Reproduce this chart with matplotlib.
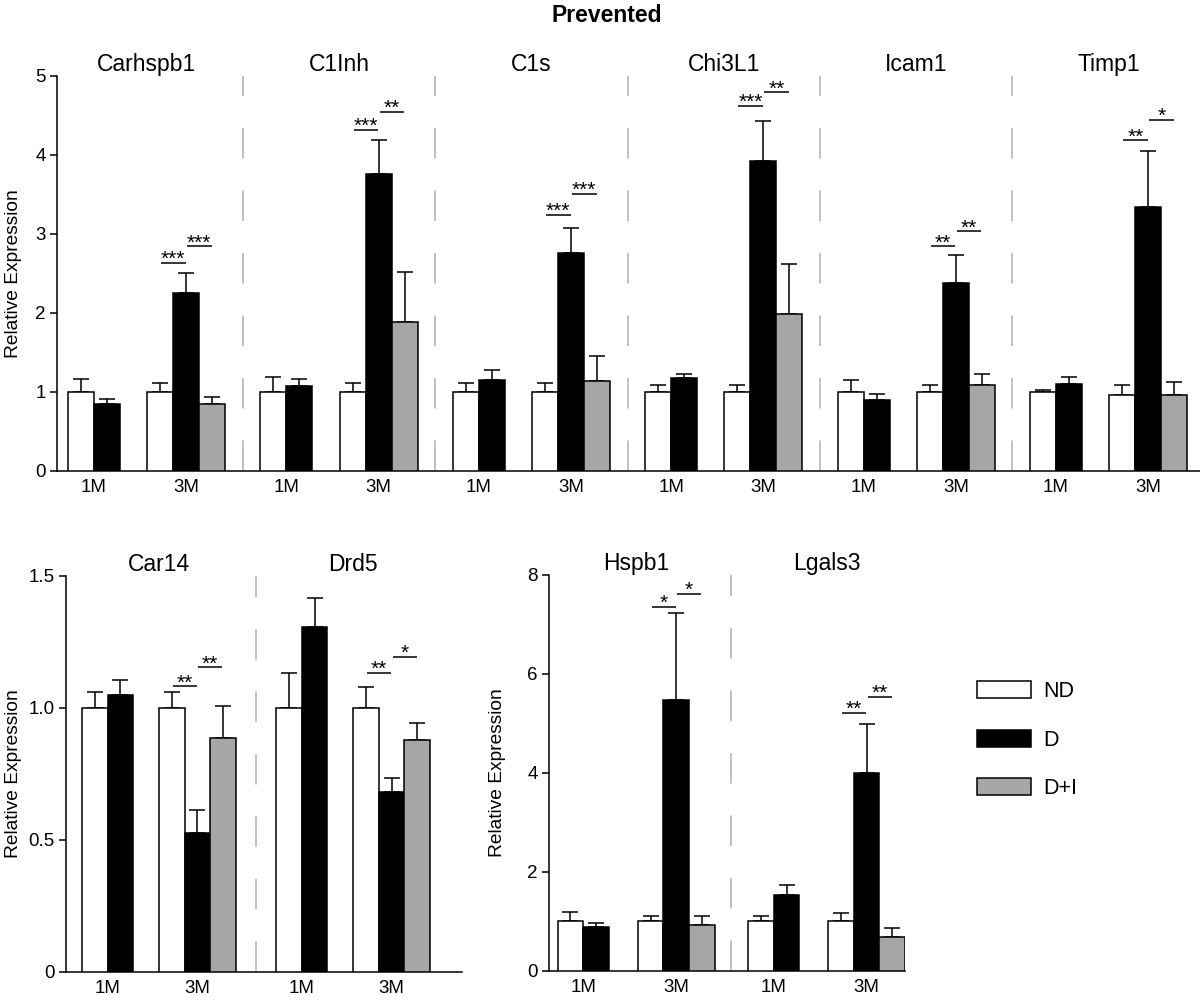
import numpy as np
import matplotlib
matplotlib.use('Agg')
import matplotlib.pyplot as plt
import matplotlib.patches as mpatches
from matplotlib.transforms import blended_transform_factory

plt.rcParams['font.family'] = ['Liberation Sans', 'DejaVu Sans']
plt.rcParams['lines.scale_dashes'] = False

GRAY = '#a6a6a6'
DASH = '#b0b0b0'

# ---- top panel ----
top_genes = ['Carhspb1', 'C1Inh', 'C1s', 'Chi3L1', 'Icam1', 'Timp1']
top_nd_1m = [1.0, 1.0, 1.0, 1.0, 1.0, 0.99]
top_nd_1m_err = [0.16, 0.18, 0.11, 0.08, 0.15, 0.03]
top_d_1m = [0.84, 1.07, 1.15, 1.17, 0.89, 1.10]
top_d_1m_err = [0.07, 0.09, 0.12, 0.05, 0.08, 0.08]
top_nd_3m = [1.0, 1.0, 1.0, 1.0, 1.0, 0.96]
top_nd_3m_err = [0.11, 0.11, 0.11, 0.08, 0.08, 0.12]
top_d_3m = [2.25, 3.76, 2.75, 3.92, 2.37, 3.34]
top_d_3m_err = [0.25, 0.43, 0.32, 0.51, 0.36, 0.71]
top_di_3m = [0.84, 1.88, 1.13, 1.98, 1.09, 0.96]
top_di_3m_err = [0.09, 0.63, 0.32, 0.63, 0.14, 0.16]
top_sig1 = ['***', '***', '***', '***', '**', '**']
top_sig1_y = [2.63, 4.31, 3.24, 4.62, 2.84, 4.18]
top_sig2 = ['***', '**', '***', '**', '**', '*']
top_sig2_y = [2.84, 4.54, 3.50, 4.79, 3.03, 4.44]

# ---- bottom left ----
bl_genes = ['Car14', 'Drd5']
bl_nd_1m = [1.0, 1.0]
bl_nd_1m_err = [0.058, 0.131]
bl_d_1m = [1.047, 1.305]
bl_d_1m_err = [0.057, 0.111]
bl_nd_3m = [1.0, 1.0]
bl_nd_3m_err = [0.058, 0.080]
bl_d_3m = [0.527, 0.681]
bl_d_3m_err = [0.085, 0.053]
bl_di_3m = [0.884, 0.877]
bl_di_3m_err = [0.121, 0.066]
bl_sig1 = ['**', '**']
bl_sig1_y = [1.081, 1.131]
bl_sig2 = ['**', '*']
bl_sig2_y = [1.153, 1.193]

# ---- bottom middle ----
bm_genes = ['Hspb1', 'Lgals3']
bm_nd_1m = [1.01, 1.0]
bm_nd_1m_err = [0.18, 0.12]
bm_d_1m = [0.89, 1.535]
bm_d_1m_err = [0.08, 0.195]
bm_nd_3m = [1.0, 1.0]
bm_nd_3m_err = [0.12, 0.165]
bm_d_3m = [5.47, 3.99]
bm_d_3m_err = [1.76, 0.99]
bm_di_3m = [0.93, 0.69]
bm_di_3m_err = [0.19, 0.185]
bm_sig1 = ['*', '**']
bm_sig1_y = [7.35, 5.21]
bm_sig2 = ['*', '**']
bm_sig2_y = [7.62, 5.54]

groups = ['ND', 'D', 'D+I']
group_colors = ['white', 'black', GRAY]


def draw_panel(ax, genes, nd1, nd1e, d1, d1e, nd3, nd3e, d3, d3e, di3, di3e,
               sig1, sig1_y, sig2, sig2_y, W, gap, xlim, ylim, yticks, yticklabels):
    n = len(genes)
    start = np.arange(n) * W
    x_nd1 = start + 0.5
    x_d1 = start + 1.5
    x_nd3 = start + gap + 0.5
    x_d3 = start + gap + 1.5
    x_di3 = start + gap + 2.5

    bars = [(x_nd1, nd1, nd1e, 'white'), (x_d1, d1, d1e, 'black'),
            (x_nd3, nd3, nd3e, 'white'), (x_d3, d3, d3e, 'black'),
            (x_di3, di3, di3e, GRAY)]
    for x, h, e, c in bars:
        ax.bar(x, h, width=1.0, color=c, edgecolor='black', linewidth=1.1, zorder=3)
        ax.errorbar(x, h, yerr=[np.zeros(n), e], fmt='none', ecolor='black',
                    elinewidth=1.1, capsize=6, capthick=1.1, zorder=2)

    # significance bars
    for i in range(n):
        for xa, xb, lab, y in [(x_nd3[i], x_d3[i], sig1[i], sig1_y[i]),
                               (x_d3[i], x_di3[i], sig2[i], sig2_y[i])]:
            ax.plot([xa + 0.04, xb - 0.02], [y, y], color='black', lw=1.1,
                    solid_capstyle='butt', zorder=4)
            ax.annotate(lab, xy=((xa + xb) / 2, y), xytext=(0, -1.5),
                        textcoords='offset points', ha='center', va='baseline',
                        fontsize=15)

    # dashed separators
    for i in range(n - 1):
        xs = (start[i] + gap + 3 + start[i + 1]) / 2
        ax.plot([xs, xs], [ylim[0], ylim[1]], color=DASH, lw=1.1,
                linestyle=(0, (22, 23)), zorder=1, clip_on=False)

    # gene titles
    trans = blended_transform_factory(ax.transData, ax.transAxes)
    for i in range(n):
        ax.text(start[i] + (gap + 3) / 2, 1.012, genes[i], transform=trans,
                ha='center', va='baseline', fontsize=16.5)

    centers = np.concatenate([start + 1.0, start + gap + 1.5])
    labels = ['1M'] * n + ['3M'] * n
    ax.set_xticks(centers)
    ax.set_xticklabels(labels, fontsize=13.5)
    ax.tick_params(axis='x', length=0, pad=6)
    ax.tick_params(axis='y', direction='out', length=5, width=1.1, pad=3,
                   labelsize=13.5)
    ax.set_yticks(yticks)
    ax.set_yticklabels(yticklabels)
    ax.set_xlim(*xlim)
    ax.set_ylim(*ylim)
    for s in ['top', 'right']:
        ax.spines[s].set_visible(False)
    for s in ['left', 'bottom']:
        ax.spines[s].set_linewidth(1.1)
    ax.set_ylabel('Relative Expression', fontsize=13.8)


fig = plt.figure(figsize=(12, 10.01), dpi=100)

ax_top = fig.add_axes([0.0475, 0.5298, 0.9525, 0.3946])
draw_panel(ax_top, top_genes, top_nd_1m, top_nd_1m_err, top_d_1m, top_d_1m_err,
           top_nd_3m, top_nd_3m_err, top_d_3m, top_d_3m_err, top_di_3m, top_di_3m_err,
           top_sig1, top_sig1_y, top_sig2, top_sig2_y,
           W=7.4, gap=3.05, xlim=(-0.42, 43.54), ylim=(0, 5),
           yticks=[0, 1, 2, 3, 4, 5], yticklabels=['0', '1', '2', '3', '4', '5'])
ax_top.yaxis.set_label_coords(-0.0306, 0.5)

ax_bl = fig.add_axes([0.055, 0.029, 0.3298, 0.3959])
draw_panel(ax_bl, bl_genes, bl_nd_1m, bl_nd_1m_err, bl_d_1m, bl_d_1m_err,
           bl_nd_3m, bl_nd_3m_err, bl_d_3m, bl_d_3m_err, bl_di_3m, bl_di_3m_err,
           bl_sig1, bl_sig1_y, bl_sig2, bl_sig2_y,
           W=7.62, gap=3.02, xlim=(-0.63, 14.89), ylim=(0, 1.5),
           yticks=[0, 0.5, 1.0, 1.5], yticklabels=['0', '0.5', '1.0', '1.5'])
ax_bl.yaxis.set_label_coords(-0.111, 0.5)

ax_bm = fig.add_axes([0.4575, 0.03, 0.2967, 0.3956])
draw_panel(ax_bm, bm_genes, bm_nd_1m, bm_nd_1m_err, bm_d_1m, bm_d_1m_err,
           bm_nd_3m, bm_nd_3m_err, bm_d_3m, bm_d_3m_err, bm_di_3m, bm_di_3m_err,
           bm_sig1, bm_sig1_y, bm_sig2, bm_sig2_y,
           W=7.46, gap=3.14, xlim=(-0.34, 13.6), ylim=(0, 8),
           yticks=[0, 2, 4, 6, 8], yticklabels=['0', '2', '4', '6', '8'])
ax_bm.yaxis.set_label_coords(-0.121, 0.5)

handles = [mpatches.Patch(facecolor=c, edgecolor='black', linewidth=1.1, label=g)
           for g, c in zip(groups, group_colors)]
fig.legend(handles=handles, loc='upper left', bbox_to_anchor=(977 / 1200, 1 - 681 / 1001),
           frameon=False, fontsize=15.5, handlelength=2.5, handleheight=0.84,
           labelspacing=1.28, handletextpad=0.6, borderpad=0, borderaxespad=0)

fig.text(0.506, 1 - 15 / 1001, 'Prevented', ha='center', va='center',
         fontsize=16.5, fontweight='bold')

fig.savefig('out.png', dpi=100)
